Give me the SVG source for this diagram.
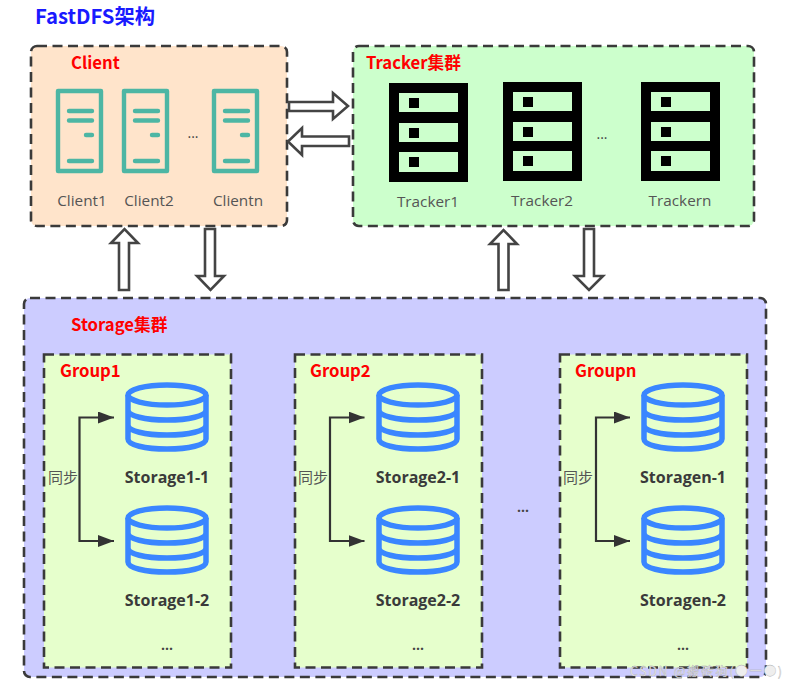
<svg xmlns="http://www.w3.org/2000/svg" xmlns:xlink="http://www.w3.org/1999/xlink" width="788" height="685" viewBox="0 0 788 685">
<style>
text{font-family:"Open Sans","Noto Sans CJK SC",sans-serif}
.box{stroke:#3a3a3a;stroke-width:2.6;stroke-dasharray:10 5.500}
.red{fill:#f00;font-size:16.700px;font-weight:700;font-family:"Noto Sans CJK SC",sans-serif}
.lbl{fill:#555;font-size:15.300px;text-anchor:middle}
.sto{fill:#3a3a3a;font-size:16px;font-weight:700;text-anchor:middle}
.dots{fill:#444;font-size:14px;text-anchor:middle}
.blk{fill:#fff;stroke:#444;stroke-width:2.6;stroke-linejoin:miter}
.srv{fill:none;stroke:#4db6a4;stroke-width:4.400;stroke-linecap:round;stroke-linejoin:round}
.cyl{fill:none;stroke:#3a86ff;stroke-width:5.500}
.sync{fill:none;stroke:#333;stroke-width:2.200}
</style>
<defs>
<g id="server">
<rect x="2" y="2" width="43" height="80" class="srv"/>
<path d="M13 22H36M13 31.500H36M30 46H36M13 72H36" class="srv"/>
</g>
<g id="rack">
<rect width="79" height="99" fill="#000"/>
<rect x="10" y="10" width="59" height="19" fill="#ccffcc"/>
<rect x="10" y="40" width="59" height="19" fill="#ccffcc"/>
<rect x="10" y="69" width="59" height="20" fill="#ccffcc"/>
<rect x="20" y="15" width="10" height="10" fill="#000"/>
<rect x="20" y="45" width="10" height="10" fill="#000"/>
<rect x="20" y="74" width="10" height="10" fill="#000"/>
</g>
<g id="cylinder">
<ellipse cx="42" cy="12" rx="39" ry="10" class="cyl"/>
<path d="M3 12V56C3 62 20 66 42 66S81 62 81 56V12M3 27C3 33 20 37 42 37S81 33 81 27M3 42C3 48 20 52 42 52S81 48 81 42" class="cyl"/>
</g>
<marker id="tri" markerUnits="userSpaceOnUse" markerWidth="16" markerHeight="12" refX="16" refY="6" orient="auto">
<path d="M0 0L16 6L0 12z" fill="#333"/>
</marker>
</defs>
<rect width="788" height="685" fill="#fff"/>
<text x="35" y="24" fill="#1a1aff" font-size="20.300" font-weight="700" style="font-family:'Noto Sans CJK SC',sans-serif">FastDFS架构</text>

<g id="client">
<rect x="31" y="46" width="256" height="180" rx="6" fill="#ffe4cb" class="box"/>
<text x="71" y="69" class="red">Client</text>
<use xlink:href="#server" href="#server" x="56" y="89"/>
<use xlink:href="#server" href="#server" x="122" y="89"/>
<use xlink:href="#server" href="#server" x="212" y="89"/>
<text x="193" y="138" class="dots">...</text>
<text x="82" y="206" class="lbl">Client1</text>
<text x="149" y="206" class="lbl">Client2</text>
<text x="238" y="206" class="lbl">Clientn</text>
</g>

<g id="tracker">
<rect x="353" y="46" width="401" height="180" rx="6" fill="#ccffcc" class="box"/>
<text x="366" y="69" class="red">Tracker集群</text>
<use xlink:href="#rack" href="#rack" x="389" y="83"/>
<use xlink:href="#rack" href="#rack" x="503" y="82"/>
<use xlink:href="#rack" href="#rack" x="641" y="82"/>
<text x="602" y="139" class="dots">...</text>
<text x="428" y="207" class="lbl">Tracker1</text>
<text x="542" y="206" class="lbl">Tracker2</text>
<text x="680" y="206" class="lbl">Trackern</text>
</g>

<g id="storage">
<rect x="24" y="298" width="742" height="379" rx="6" fill="#ccccff" class="box"/>
<text x="71" y="331" class="red">Storage集群</text>
<text x="523" y="512" class="dots" font-weight="700">...</text>
</g>

<g id="group1">
<rect x="44" y="354.500" width="187" height="313" fill="#e6ffcc" class="box"/>
<text x="60" y="377" class="red">Group1</text>
<use xlink:href="#cylinder" href="#cylinder" x="125" y="383"/>
<use xlink:href="#cylinder" href="#cylinder" x="125" y="506"/>
<text x="167" y="483" class="sto">Storage1-1</text>
<text x="167" y="606" class="sto">Storage1-2</text>
<text x="167" y="650" class="dots" font-weight="700">...</text>
<text x="48" y="483" fill="#555" font-size="15">同步</text>
</g>
<g id="group2">
<rect x="295" y="354.500" width="187" height="313" fill="#e6ffcc" class="box"/>
<text x="310" y="377" class="red">Group2</text>
<use xlink:href="#cylinder" href="#cylinder" x="376" y="383"/>
<use xlink:href="#cylinder" href="#cylinder" x="376" y="506"/>
<text x="418" y="483" class="sto">Storage2-1</text>
<text x="418" y="606" class="sto">Storage2-2</text>
<text x="418" y="650" class="dots" font-weight="700">...</text>
<text x="298" y="483" fill="#555" font-size="15">同步</text>
</g>
<g id="groupn">
<rect x="560" y="354.500" width="187" height="313" fill="#e6ffcc" class="box"/>
<text x="575" y="377" class="red">Groupn</text>
<use xlink:href="#cylinder" href="#cylinder" x="641" y="383"/>
<use xlink:href="#cylinder" href="#cylinder" x="641" y="506"/>
<text x="683" y="483" class="sto">Storagen-1</text>
<text x="683" y="606" class="sto">Storagen-2</text>
<text x="683" y="650" class="dots" font-weight="700">...</text>
<text x="563" y="483" fill="#555" font-size="15">同步</text>
</g>

<g id="connectors">
<path class="blk" d="M289 102H333V93L348 106L333 119V111H289z"/>
<path class="blk" d="M349 136.500H302V128L288 141.500L302 155V146H349z"/>
<path class="blk" d="M119 290V243H111L124.500 229L138 243H129V290z"/>
<path class="blk" d="M205 229V276H197L210.500 290L224 276H215V229z"/>
<path class="blk" d="M498.500 290V244H490L503.500 230L517 244H508.500V290z"/>
<path class="blk" d="M584 229V276H575L589 290L603 276H594V229z"/>
<path class="sync" marker-end="url(#tri)" d="M79.500 479V417.500H114"/>
<path class="sync" marker-end="url(#tri)" d="M79.500 479V541H114"/>
<path class="sync" marker-end="url(#tri)" d="M330 479V417.500H364.500"/>
<path class="sync" marker-end="url(#tri)" d="M330 479V541H364.500"/>
<path class="sync" marker-end="url(#tri)" d="M596 479V417.500H630"/>
<path class="sync" marker-end="url(#tri)" d="M596 479V541H630"/>
</g>

<text x="630" y="676" fill="#eee" font-size="12.500" stroke="#aaa" stroke-width="0.300" textLength="152" lengthAdjust="spacing" style="font-family:'Noto Sans CJK SC',sans-serif">CSDN @搬砖狗(●一●)</text>
</svg>
